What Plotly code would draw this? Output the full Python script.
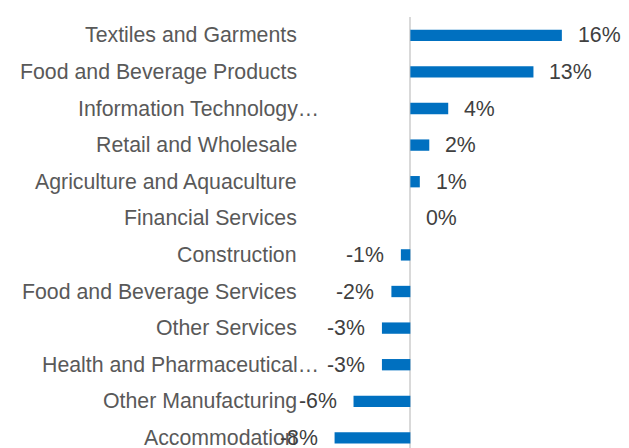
import plotly.graph_objects as go

# Sector change, largest gain at the top
categories = [
    "Textiles and Garments",
    "Food and Beverage Products",
    "Information Technology…",
    "Retail and Wholesale",
    "Agriculture and Aquaculture",
    "Financial Services",
    "Construction",
    "Food and Beverage Services",
    "Other Services",
    "Health and Pharmaceutical…",
    "Other Manufacturing",
    "Accommodation",
]
values = [16, 13, 4, 2, 1, 0, -1, -2, -3, -3, -6, -8]
value_labels = [f"{v}%" for v in values]

FONT = "Liberation Sans, Arial, sans-serif"
FONT_SIZE = 21.3
BAR_COLOR = "#0070C0"
CAT_COLOR = "#595959"
VAL_COLOR = "#404040"

rows = list(range(len(categories)))

fig = go.Figure(
    go.Bar(
        x=values,
        y=rows,
        orientation="h",
        width=0.31,
        marker=dict(color=BAR_COLOR, line=dict(width=0)),
        hoverinfo="skip",
    )
)

annotations = []
for i, (cat, v, lab) in enumerate(zip(categories, values, value_labels)):
    # category name, right-aligned left of the zero line;
    # a trailing ellipsis hangs past the alignment edge
    hang = FONT_SIZE if cat.endswith("…") else 0
    annotations.append(
        dict(
            x=0, y=i, xref="x", yref="y",
            text=cat, showarrow=False,
            xanchor="right", yanchor="middle",
            xshift=-113 + hang,
            borderpad=0, borderwidth=0,
            font=dict(family=FONT, size=FONT_SIZE, color=CAT_COLOR),
        )
    )
    # value label just outside the end of the bar
    positive = v >= 0
    annotations.append(
        dict(
            x=v, y=i, xref="x", yref="y",
            text=lab, showarrow=False,
            xanchor="left" if positive else "right", yanchor="middle",
            xshift=16 if positive else -17,
            borderpad=0, borderwidth=0,
            font=dict(family=FONT, size=FONT_SIZE, color=VAL_COLOR),
        )
    )

fig.update_layout(
    width=629,
    height=448,
    margin=dict(l=0, r=0, t=17, b=0),
    paper_bgcolor="white",
    plot_bgcolor="white",
    showlegend=False,
    annotations=annotations,
    font=dict(family=FONT, size=FONT_SIZE, color=CAT_COLOR),
    xaxis=dict(
        range=[-43.33, 23.09],
        showticklabels=False,
        showgrid=False,
        showline=False,
        ticks="",
        zeroline=True,
        zerolinecolor="#d9d9d9",
        zerolinewidth=1.5,
        fixedrange=True,
    ),
    yaxis=dict(
        range=[11.276, -0.5],
        showticklabels=False,
        showgrid=False,
        showline=False,
        ticks="",
        zeroline=False,
        fixedrange=True,
    ),
)

fig.write_html("out.html", config={"displayModeBar": False})
